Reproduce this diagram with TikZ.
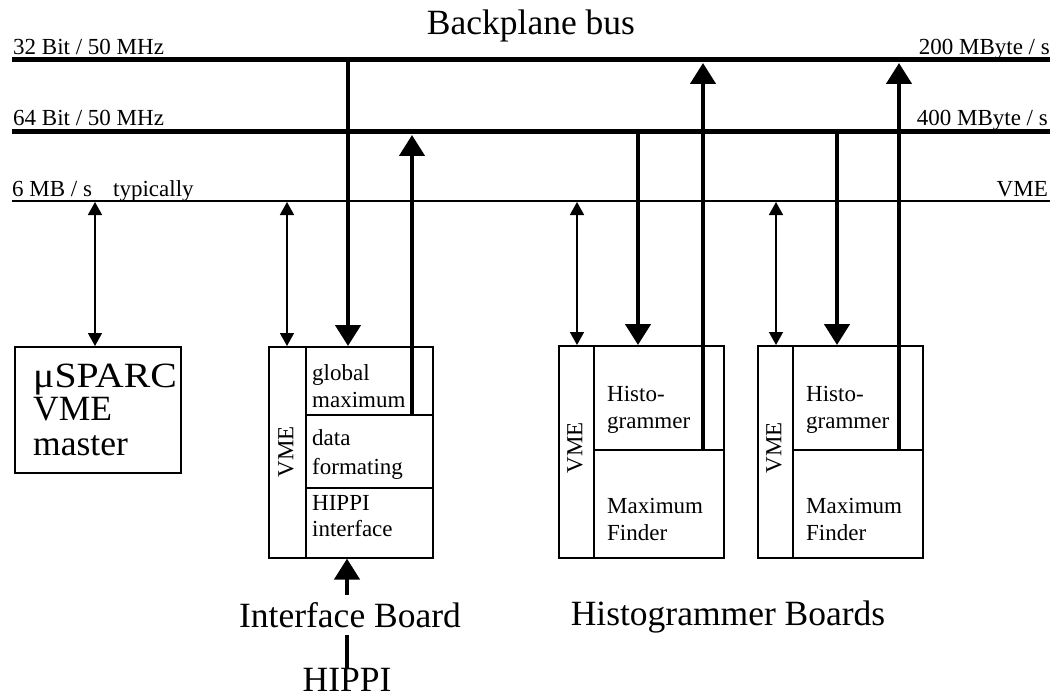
\documentclass[tikz,border=0pt]{standalone}
\usepackage{fontspec}
\setmainfont{Liberation Serif}
\usetikzlibrary{arrows.meta}
\newcommand\txtS{\fontsize{23bp}{27bp}\selectfont}
\newcommand\txtL{\fontsize{35.5bp}{42bp}\selectfont}
\tikzset{
  bus/.style={line width=5bp},
  vmebus/.style={line width=2bp},
  cell/.style={draw,line width=1.6bp,anchor=north west,inner sep=0pt},
  lbl/.style={anchor=base west,inner sep=0pt,font=\txtS},
  lblr/.style={anchor=base east,inner sep=0pt,font=\txtS},
  big/.style={inner sep=0pt,font=\txtL},
  vmetxt/.style={inner sep=0pt,font=\txtS,rotate=90},
  thinarr/.style={line width=1.6bp,{Triangle[width=14bp,length=13bp]}-{Triangle[width=14bp,length=13bp]}},
  thickarr/.style={line width=4.5bp,-{Triangle[width=25bp,length=21bp]}},
  thickln/.style={line width=4.5bp},
}
\begin{document}
\begin{tikzpicture}[x=1bp,y=-1bp]
\useasboundingbox (0,0) rectangle (1056,695);

% bus lines
\coordinate (b32w) at (12,60);   \coordinate (b32e) at (1050,60);
\coordinate (b64w) at (12,132);  \coordinate (b64e) at (1050,132);
\coordinate (bvw) at (12,201);   \coordinate (bve) at (1050,201);
\draw[bus] (b32w) -- (b32e);
\draw[bus] (b64w) -- (b64e);
\draw[vmebus] (bvw) -- (bve);

% bus labels
\node[big,anchor=base] (title) at (531,35) {Backplane bus};
\node[lbl] (l32) at (13,55) {32 Bit / 50 MHz};
\node[lbl] (l64) at (13,126) {64 Bit / 50 MHz};
\node[lbl] (l6) at (12,197) {6 MB / s};
\node[lbl] (ltyp) at (113,197) {typically};
\node[lblr] (r200) at (1050,55) {200 MByte / s};
\node[lblr] (r400) at (1048,126) {400 MByte / s};
\node[lblr] (rvme) at (1048,197) {VME};

% microSPARC master
\node[cell,minimum width=166bp,minimum height=126bp] (sparc) at (14,346) {};
\node[big,anchor=base west,xscale=1.12] (s1) at (33,387) {μSPARC};
\node[big,anchor=base west] (s2) at (33,420) {VME};
\node[big,anchor=base west] (s3) at (33,455) {master};

% interface board
\node[cell,minimum width=37bp,minimum height=211bp] (ifvme) at (268,346) {};
\node[cell,minimum width=127bp,minimum height=68bp] (gm) at (305,346) {};
\node[cell,minimum width=127bp,minimum height=73bp] (df) at (305,414) {};
\node[cell,minimum width=127bp,minimum height=70bp] (hi) at (305,487) {};
\node[vmetxt] (ifv) at (286,452) {VME};
\node[lbl] (t1) at (312,380) {global};
\node[lbl] (t2) at (312,407) {maximum};
\node[lbl] (t3) at (312,445) {data};
\node[lbl] (t4) at (312,474) {formating};
\node[lbl] (t5) at (312,510) {HIPPI};
\node[lbl] (t6) at (312,536) {interface};

% histogrammer board 1
\node[cell,minimum width=35bp,minimum height=212bp] (h1vme) at (558,345) {};
\node[cell,minimum width=130bp,minimum height=104bp] (h1h) at (593,345) {};
\node[cell,minimum width=130bp,minimum height=108bp] (h1m) at (593,449) {};
\node[vmetxt] (h1v) at (575,448) {VME};
\node[lbl] (h1a) at (607,401) {Histo-};
\node[lbl] (h1b) at (607,428) {grammer};
\node[lbl] (h1c) at (607,513) {Maximum};
\node[lbl] (h1d) at (607,540) {Finder};

% histogrammer board 2
\node[cell,minimum width=35bp,minimum height=212bp] (h2vme) at (757,345) {};
\node[cell,minimum width=130bp,minimum height=104bp] (h2h) at (792,345) {};
\node[cell,minimum width=130bp,minimum height=108bp] (h2m) at (792,449) {};
\node[vmetxt] (h2v) at (774,448) {VME};
\node[lbl] (h2a) at (806,401) {Histo-};
\node[lbl] (h2b) at (806,428) {grammer};
\node[lbl] (h2c) at (806,513) {Maximum};
\node[lbl] (h2d) at (806,540) {Finder};

% VME bus connections
\coordinate (v0) at (95,202);
\coordinate (v1) at (287,202);
\coordinate (v2) at (577,202);
\coordinate (v3) at (776,202);
\draw[thinarr] (v0) -- (v0 |- sparc.north);
\draw[thinarr] (v1) -- (v1 |- ifvme.north);
\draw[thinarr] (v2) -- (v2 |- h1vme.north);
\draw[thinarr] (v3) -- (v3 |- h2vme.north);

% fast bus connections
\coordinate (ifdn) at (348,60);
\coordinate (ifup) at (412,135);
\coordinate (hd1) at (638,132);
\coordinate (hd2) at (837,132);
\coordinate (hu1) at (703,63);
\coordinate (hu2) at (899,63);
\draw[thickarr] (ifdn) -- (ifdn |- gm.north);
\draw[thickarr] (ifup |- gm.south) -- (ifup);
\draw[thickarr] (hd1) -- (hd1 |- h1h.north);
\draw[thickarr] (hd2) -- (hd2 |- h2h.north);
\draw[thickarr] (hu1 |- h1h.south) -- (hu1);
\draw[thickarr] (hu2 |- h2h.south) -- (hu2);

% captions and HIPPI input
\node[big,anchor=base] (ib) at (350,627) {Interface Board};
\node[big,anchor=base] (hb) at (728,625) {Histogrammer Boards};
\node[big,anchor=base] (hippi) at (347,691) {HIPPI};
\coordinate (hin) at (347,595);
\coordinate (hl) at (347,635);
\draw[thickarr] (hin) -- (hin |- hi.south);
\draw[thickln] (hl) -- (hl |- hippi.north);
\end{tikzpicture}
\end{document}
